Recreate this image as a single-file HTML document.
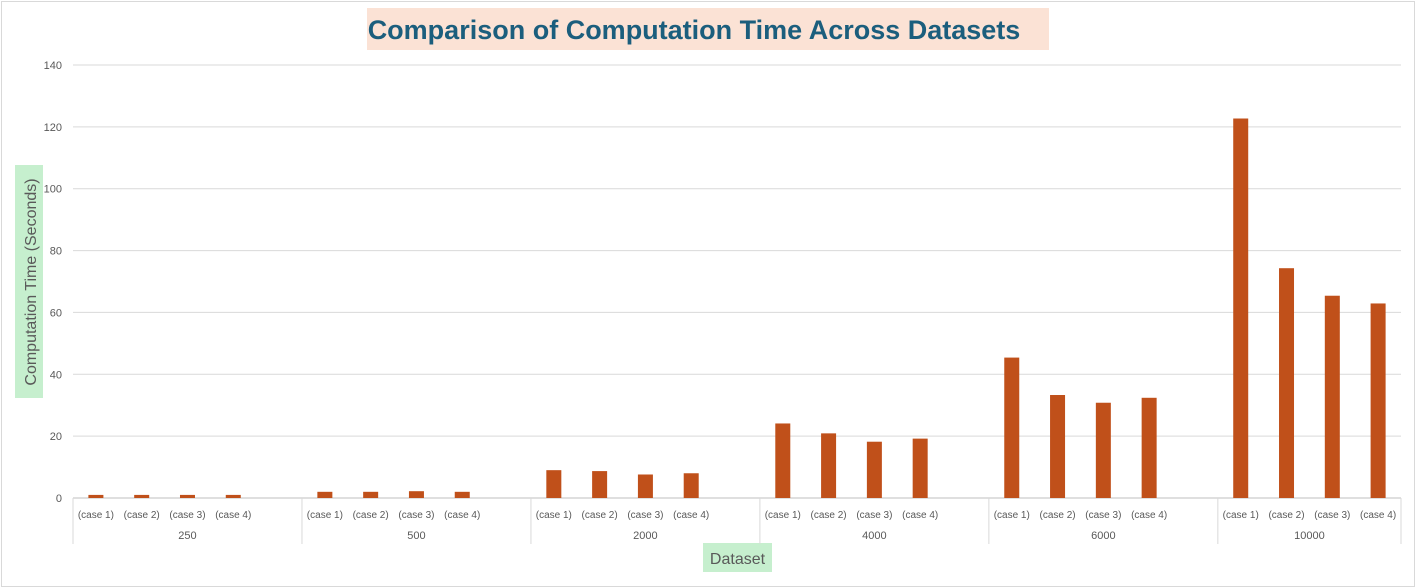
<!DOCTYPE html>
<html><head><meta charset="utf-8"><style>
body{margin:0;background:#fff;}
svg{display:block;font-family:"Liberation Sans",sans-serif;}
</style></head><body>
<svg id="chart" width="1416" height="588">
<rect x="1.5" y="1.5" width="1413" height="585" fill="#fff" stroke="#d9d9d9"/>
<rect x="367" y="8" width="682" height="42" fill="#fbe2d5"/>
<text x="694" y="39" text-anchor="middle" font-size="27" font-weight="bold" fill="#1b5e7d">Comparison of Computation Time Across Datasets</text>
<rect x="15" y="165" width="28" height="233" fill="#c6efce"/>
<text transform="translate(36,282) rotate(-90)" text-anchor="middle" font-size="16" fill="#595959">Computation Time (Seconds)</text>
<rect x="703" y="543" width="69" height="29" fill="#c6efce"/>
<text x="737.5" y="564" text-anchor="middle" font-size="16" fill="#595959">Dataset</text>
<g id="grid"></g><g id="bars"></g><g id="xaxis"></g>
</svg>
<script>
const groups = ["250","500","2000","4000","6000","10000"];
const cases = ["(case 1)","(case 2)","(case 3)","(case 4)"];
const v250 = [1,1,1,1];
const v500 = [2,2,2.2,2];
const v2000 = [9,8.7,7.6,8];
const v4000 = [24.1,20.9,18.2,19.2];
const v6000 = [45.4,33.3,30.8,32.4];
const v10000 = [122.7,74.3,65.4,62.9];
const yTicks = [0,20,40,60,80,100,120,140];
const series = [v250,v500,v2000,v4000,v6000,v10000];
const NS="http://www.w3.org/2000/svg";
const x0=73,x1=1401,slot=(x1-x0)/29,y0=498,yTop=65;
function y(v){return y0-(v/140)*(y0-yTop);}
function xc(g,c){return x0+slot*(g*5+c+0.5);}
function mk(t,a,p){const e=document.createElementNS(NS,t);for(const k in a)e.setAttribute(k,a[k]);p.appendChild(e);return e;}
const grid=document.getElementById('grid');
yTicks.forEach(t=>{
  const l=mk('line',{x1:x0,x2:x1,y1:y(t),y2:y(t),stroke:t===0?'#bfbfbf':'#d9d9d9','stroke-width':1},grid);
  
  
  const tx=mk('text',{x:62,y:y(t)+4,'text-anchor':'end','font-size':11,fill:'#595959'},grid);
  tx.textContent=t;
  
  
});
const bars=document.getElementById('bars');
series.forEach((s,g)=>s.forEach((v,c)=>{
  const r=mk('rect',{x:xc(g,c)-7.5,y:y(v),width:15,height:y0-y(v),fill:'#c0501a'},bars);
  
  
}));
const xa=document.getElementById('xaxis');
for(let g=0;g<=6;g++){
  const xx=g<6?x0+slot*5*g:x1;
  const l=mk('line',{x1:xx,x2:xx,y1:y0,y2:544,stroke:'#d9d9d9'},xa);
  
  
}
groups.forEach((gname,g)=>{
  cases.forEach((cn,c)=>{
    const t=mk('text',{x:xc(g,c),y:518,'text-anchor':'middle','font-size':10,fill:'#595959'},xa);
    t.textContent=cn;
    
    
  });
  const gx=g<5?x0+slot*(5*g+2.5):(x0+slot*25+x1)/2;
  const t=mk('text',{x:gx,y:539,'text-anchor':'middle','font-size':11,fill:'#595959'},xa);
  t.textContent=gname;
  
  
});
</script>
</body></html>
